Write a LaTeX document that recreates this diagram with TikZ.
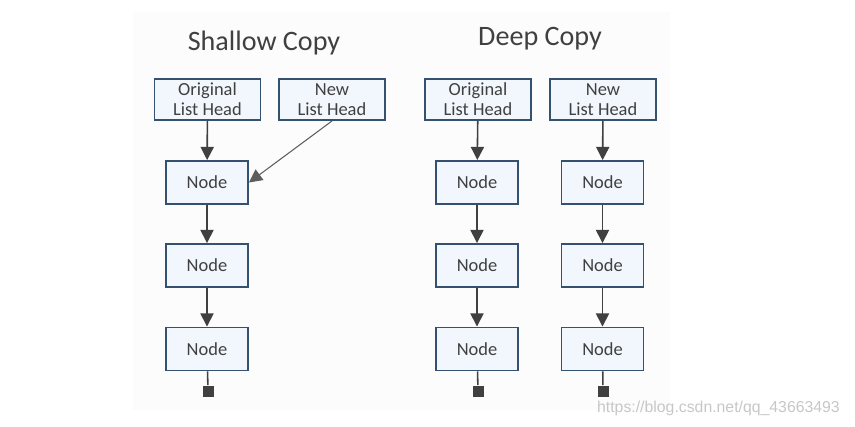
\documentclass[tikz,border=0pt]{standalone}
\usepackage{fontspec}
\setmainfont{Carlito}
\newfontfamily\wmfont{Liberation Sans}
\usetikzlibrary{arrows.meta,positioning}
\definecolor{boxline}{RGB}{52,82,112}
\definecolor{boxfill}{RGB}{241,247,252}
\definecolor{ink}{RGB}{64,64,64}

\begin{document}
\begin{tikzpicture}[x=0.02cm,y=-0.02cm,>={Triangle[width=7.5pt,length=7.5pt]},
  head/.style={draw=boxline,fill=boxfill,line width=1.1pt,minimum width=2.12cm,minimum height=0.82cm,inner sep=1pt,align=center,text=ink,font=\fontsize{10.5}{11.5}\selectfont},
  item/.style={head,minimum width=1.64cm,minimum height=0.86cm},
  link/.style={->,draw=ink,line width=0.9pt},
  endmark/.style={fill=ink,minimum size=0.22cm,inner sep=0pt},
  title/.style={text=ink,font=\fontsize{16}{19}\selectfont}]
\useasboundingbox (0,0) rectangle (855,426);
\fill[black!1] (133,12) rectangle (670,410);
\node[title] at (264,43) {Shallow Copy};
\node[title] at (540,39) {Deep Copy};
% shallow copy
\node[head] (sorig) at (207.5,99.5) {Original\\List Head};
\node[head] (snew) at (332,99.5) {New\\List Head};
\node[item] (s1) at (207,182.5) {Node};
\node[item] (s2) at (207,265.5) {Node};
\node[item] (s3) at (207,349) {Node};
\node[endmark] (send) at (208,391) {};
\draw[link] (sorig) -- (s1);
\draw[link] (s1) -- (s2);
\draw[link] (s2) -- (s3);
\draw[ink,line width=0.9pt] (s3) -- (send);
\draw[->,draw=ink!85,line width=0.6pt] (snew.south) -- (s1.east);
% deep copy
\node[head] (dorig) at (478,99.5) {Original\\List Head};
\node[head] (dnew) at (603,99.5) {New\\List Head};
\node[item] (d1) at (477,182.5) {Node};
\node[item] (d2) at (477,265.5) {Node};
\node[item] (d3) at (477,349) {Node};
\node[endmark] (dend) at (478,391) {};
\node[item] (e1) at (602.5,182.5) {Node};
\node[item] (e2) at (602.5,265.5) {Node};
\node[item] (e3) at (602.5,349) {Node};
\node[endmark] (eend) at (603,391) {};
\draw[link] (dorig) -- (d1);
\draw[link] (d1) -- (d2);
\draw[link] (d2) -- (d3);
\draw[ink,line width=0.9pt] (d3) -- (dend);
\draw[link] (dnew) -- (e1);
\draw[link] (e1) -- (e2);
\draw[link] (e2) -- (e3);
\draw[ink,line width=0.9pt] (e3) -- (eend);
\node[anchor=east,text=black!22,font=\wmfont\fontsize{9}{10}\selectfont] at (846,408) {https://blog.csdn.net/qq\_43663493};
\end{tikzpicture}
\end{document}
